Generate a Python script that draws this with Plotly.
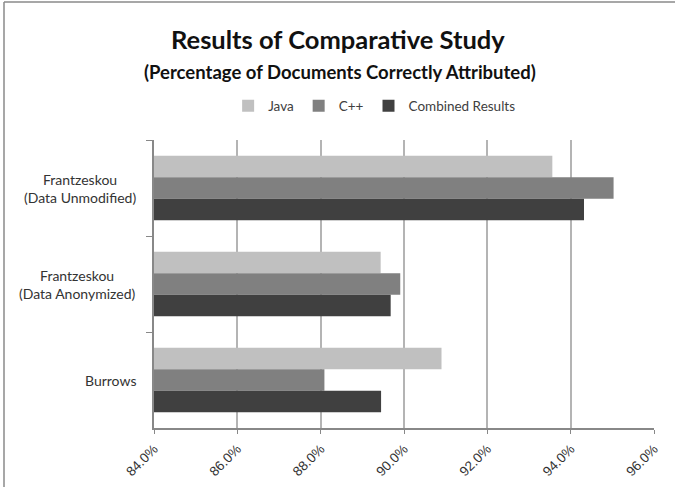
import plotly.graph_objects as go

# Study labels (top to bottom) and accuracy per language
categories = ["Frantzeskou<br>(Data Unmodified)", "Frantzeskou<br>(Data Anonymized)", "Burrows"]
java = [0.9356, 0.8944, 0.9090]
cpp = [0.9503, 0.8991, 0.8809]
combined = [0.9432, 0.8968, 0.8945]

series_names = ["Java", "C++", "Combined Results"]
series_colors = ["#c0c0c0", "#808080", "#404040"]

x_ticks = [0.84, 0.86, 0.88, 0.90, 0.92, 0.94, 0.96]

W, H = 675, 487
ML, MR, MT, MB = 154, 21, 140, 59

fig = go.Figure()
for name, vals, col in zip(series_names, [java, cpp, combined], series_colors):
    fig.add_trace(go.Bar(
        y=categories, x=vals, name=name, orientation="h",
        marker=dict(color=col, line=dict(width=0)),
        base=0,
    ))

fig.update_layout(
    width=W, height=H,
    margin=dict(l=ML, r=MR, t=MT, b=MB, pad=0, autoexpand=False),
    paper_bgcolor="white", plot_bgcolor="white",
    barmode="group", bargap=0.33, bargroupgap=0,
    showlegend=True,
    legend=dict(
        orientation="h", xref="container", yref="container",
        x=0.555, y=1 - 106 / H, xanchor="center", yanchor="middle",
        font=dict(family="Lato", size=13.5, color="#404040"),
        itemwidth=30, traceorder="normal",
    ),
    font=dict(family="Lato", color="#404040"),
)

fig.update_xaxes(
    range=[x_ticks[0], x_ticks[-1]], tickvals=x_ticks, tickformat=".1%",
    tickangle=-45, ticks="outside", ticklen=4, tickcolor="#888888",
    ticklabelstandoff=2, automargin=False,
    showline=True, linecolor="#888888", linewidth=1.5,
    showgrid=True, gridcolor="#b4b4b4", gridwidth=1.5,
    tickfont=dict(family="Liberation Sans", size=13.5, color="#333333"),
    zeroline=False,
)
fig.update_yaxes(
    categoryorder="array", categoryarray=categories, autorange="reversed",
    showticklabels=False, ticks="outside", ticklen=6, tickcolor="#888888",
    tickson="boundaries", showline=True, linecolor="#888888", linewidth=1.5,
    showgrid=False, zeroline=False, automargin=False,
)

# Category labels, each line centred within a right-aligned block
for cat in categories:
    fig.add_annotation(
        xref="paper", yref="y", x=0, y=cat, xshift=-16,
        xanchor="right", yanchor="middle", align="center",
        text=cat, showarrow=False,
        font=dict(family="Lato", size=14, color="#333333"),
    )

# Titles
fig.add_annotation(
    xref="paper", yref="paper", x=(338 - ML) / (W - ML - MR),
    y=(H - MB - 39) / (H - MT - MB), xanchor="center", yanchor="middle",
    text="<b>Results of Comparative Study</b>", showarrow=False,
    font=dict(family="Lato", size=25.5, color="#111111"),
)
fig.add_annotation(
    xref="paper", yref="paper", x=(340 - ML) / (W - ML - MR),
    y=(H - MB - 72) / (H - MT - MB), xanchor="center", yanchor="middle",
    text="<b>(Percentage of Documents Correctly Attributed)</b>", showarrow=False,
    font=dict(family="Lato", size=18.5, color="#111111"),
)

# Chart frame (left and top edges)
pw, ph = W - ML - MR, H - MT - MB
x_left = (4 - ML) / pw
y_top = (H - MB - 2) / ph
fig.add_shape(type="line", xref="paper", yref="paper",
              x0=x_left, x1=(W + 5 - ML) / pw, y0=y_top, y1=y_top,
              line=dict(color="#8a8a8a", width=1.5))
fig.add_shape(type="line", xref="paper", yref="paper",
              x0=x_left, x1=x_left, y0=y_top, y1=(-5 - MB) / ph,
              line=dict(color="#8a8a8a", width=1.5))

fig.write_html("out.html")
